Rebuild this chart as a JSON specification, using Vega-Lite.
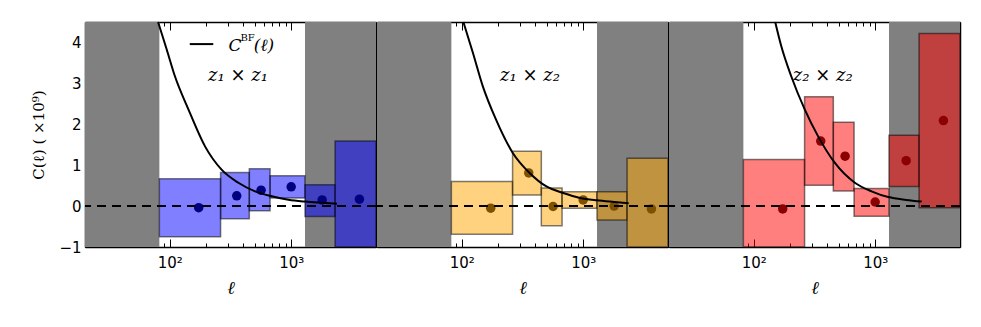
{
  "$schema": "https://vega.github.io/schema/vega-lite/v6.json",
  "padding": {"left": 31, "top": 18, "right": 5, "bottom": 5},
  "background": "white",
  "spacing": -1.5,
  "config": {
    "view": {"stroke": null}
  },
  "datasets": {
    "gray": [
      {"lo": 20, "hi": 82, "ylo": -1, "yhi": 4.5},
      {"lo": 1300, "hi": 5000, "ylo": -1, "yhi": 4.5}
    ],
    "boxes": [
      {"panel": 1, "lo": 82, "hi": 262, "ylo": -0.75, "yhi": 0.67},
      {"panel": 1, "lo": 262, "hi": 452, "ylo": -0.31, "yhi": 0.82},
      {"panel": 1, "lo": 452, "hi": 670, "ylo": -0.115, "yhi": 0.91},
      {"panel": 1, "lo": 670, "hi": 1300, "ylo": 0.2, "yhi": 0.74},
      {"panel": 1, "lo": 1300, "hi": 2300, "ylo": -0.255, "yhi": 0.52},
      {"panel": 1, "lo": 2300, "hi": 5000, "ylo": -1, "yhi": 1.59},
      {"panel": 2, "lo": 82, "hi": 262, "ylo": -0.69, "yhi": 0.6},
      {"panel": 2, "lo": 262, "hi": 452, "ylo": 0.27, "yhi": 1.34},
      {"panel": 2, "lo": 452, "hi": 670, "ylo": -0.48, "yhi": 0.44},
      {"panel": 2, "lo": 670, "hi": 1300, "ylo": -0.05, "yhi": 0.35},
      {"panel": 2, "lo": 1300, "hi": 2300, "ylo": -0.34, "yhi": 0.35},
      {"panel": 2, "lo": 2300, "hi": 5000, "ylo": -1, "yhi": 1.17},
      {"panel": 3, "lo": 82, "hi": 262, "ylo": -1, "yhi": 1.14},
      {"panel": 3, "lo": 262, "hi": 452, "ylo": 0.51, "yhi": 2.67},
      {"panel": 3, "lo": 452, "hi": 670, "ylo": 0.37, "yhi": 2.05},
      {"panel": 3, "lo": 670, "hi": 1300, "ylo": -0.25, "yhi": 0.43},
      {"panel": 3, "lo": 1300, "hi": 2300, "ylo": 0.48, "yhi": 1.73},
      {"panel": 3, "lo": 2300, "hi": 5000, "ylo": -0.04, "yhi": 4.22}
    ],
    "pts": [
      {"panel": 1, "ell": 173, "c": -0.04},
      {"panel": 1, "ell": 356, "c": 0.25},
      {"panel": 1, "ell": 565, "c": 0.39},
      {"panel": 1, "ell": 1000, "c": 0.47},
      {"panel": 1, "ell": 1800, "c": 0.15},
      {"panel": 1, "ell": 3650, "c": 0.17},
      {"panel": 2, "ell": 173, "c": -0.05},
      {"panel": 2, "ell": 356, "c": 0.81},
      {"panel": 2, "ell": 565, "c": -0.01},
      {"panel": 2, "ell": 1000, "c": 0.15},
      {"panel": 2, "ell": 1800, "c": 0.0},
      {"panel": 2, "ell": 3650, "c": -0.07},
      {"panel": 3, "ell": 173, "c": -0.07},
      {"panel": 3, "ell": 356, "c": 1.59},
      {"panel": 3, "ell": 565, "c": 1.22},
      {"panel": 3, "ell": 1000, "c": 0.1},
      {"panel": 3, "ell": 1800, "c": 1.11},
      {"panel": 3, "ell": 3650, "c": 2.09}
    ],
    "curve": [
      {"panel": 1, "ell": 80, "c": 4.5},
      {"panel": 1, "ell": 94, "c": 3.84},
      {"panel": 1, "ell": 110, "c": 3.18},
      {"panel": 1, "ell": 142, "c": 2.37},
      {"panel": 1, "ell": 195, "c": 1.46},
      {"panel": 1, "ell": 267, "c": 0.89},
      {"panel": 1, "ell": 367, "c": 0.57},
      {"panel": 1, "ell": 504, "c": 0.36},
      {"panel": 1, "ell": 692, "c": 0.24},
      {"panel": 1, "ell": 950, "c": 0.155},
      {"panel": 1, "ell": 1306, "c": 0.11},
      {"panel": 1, "ell": 1800, "c": 0.08},
      {"panel": 1, "ell": 2390, "c": 0.056},
      {"panel": 2, "ell": 103, "c": 4.5},
      {"panel": 2, "ell": 123, "c": 3.76},
      {"panel": 2, "ell": 148.5, "c": 2.94},
      {"panel": 2, "ell": 191, "c": 2.12},
      {"panel": 2, "ell": 263, "c": 1.3},
      {"panel": 2, "ell": 362, "c": 0.81},
      {"panel": 2, "ell": 498, "c": 0.48},
      {"panel": 2, "ell": 685, "c": 0.32},
      {"panel": 2, "ell": 940, "c": 0.2},
      {"panel": 2, "ell": 1294, "c": 0.14},
      {"panel": 2, "ell": 1800, "c": 0.1},
      {"panel": 2, "ell": 2370, "c": 0.07},
      {"panel": 3, "ell": 150, "c": 4.5},
      {"panel": 3, "ell": 168, "c": 3.92},
      {"panel": 3, "ell": 203, "c": 3.18},
      {"panel": 3, "ell": 262, "c": 2.37},
      {"panel": 3, "ell": 338, "c": 1.71},
      {"panel": 3, "ell": 464, "c": 1.06},
      {"panel": 3, "ell": 680, "c": 0.57},
      {"panel": 3, "ell": 933, "c": 0.36},
      {"panel": 3, "ell": 1280, "c": 0.22},
      {"panel": 3, "ell": 1800, "c": 0.15},
      {"panel": 3, "ell": 2415, "c": 0.11}
    ],
    "zero": [{"c": 0}],
    "labels": [
      {"panel": 1, "ell": 365, "c": 3.18, "t": "z₁ × z₁"},
      {"panel": 2, "ell": 365, "c": 3.18, "t": "z₁ × z₂"},
      {"panel": 3, "ell": 370, "c": 3.18, "t": "z₂ × z₂"}
    ],
    "legline": [{"lo": 146, "hi": 228, "c": 3.96}],
    "legtext": [
      {"part": "main", "ell": 305, "c": 3.92, "t": "C"},
      {"part": "sup", "ell": 382, "c": 4.1, "t": "BF"},
      {"part": "main", "ell": 492, "c": 3.92, "t": "(ℓ)"}
    ]
  },
  "hconcat": [
    {
      "width": 291,
      "height": 225,
      "layer": [
        {
          "data": {"name": "gray"},
          "mark": {"type": "rect", "color": "#808080"},
          "encoding": {
            "x": {"field": "lo", "type": "quantitative", "scale": {"type": "log", "domain": [20, 5000], "nice": false},
              "axis": {"orient": "bottom", "values": [20,30,40,50,60,70,80,90,100,200,300,400,500,600,700,800,900,1000,2000,3000,4000,5000],
                "labelExpr": "datum.value == 100 ? '10²' : datum.value == 1000 ? '10³' : ''",
                "domain": true, "domainColor": "black", "domainWidth": 1.5, "ticks": true, "tickColor": "black", "tickWidth": 1,
                "tickSize": {"condition": {"test": "datum.value == 100 || datum.value == 1000", "value": -8}, "value": -4},
                "grid": false, "labelFont": "DejaVu Sans", "labelFontSize": 15, "labelColor": "black", "labelFlush": false, "labelOverlap": false,
                "labelPadding": 16, "title": "ℓ", "titleFont": "DejaVu Serif", "titleFontStyle": "italic", "titleFontWeight": "normal", "titleColor": "black", "titleFontSize": 18, "titlePadding": 5}},
            "x2": {"field": "hi"},
            "y": {"field": "ylo", "type": "quantitative", "scale": {"domain": [-1, 4.5], "nice": false, "zero": false},
              "axis": {"orient": "left", "values": [-1,0,1,2,3,4], "domain": true, "domainColor": "black", "domainWidth": 1.5, "ticks": true, "tickColor": "black", "tickWidth": 1, "tickSize": -8,
                "grid": false, "labelFont": "DejaVu Sans", "labelFontSize": 15, "labelColor": "black", "labelPadding": 12,
                "title": "C(ℓ) ( ×10⁹)", "titleFont": "DejaVu Serif", "titleFontWeight": "normal", "titleColor": "black", "titleFontSize": 15, "titlePadding": 12}},
            "y2": {"field": "yhi"}
          }
        },
        {
          "data": {"name": "boxes"},
          "transform": [{"filter": "datum.panel == 1"}],
          "mark": {"type": "rect", "fill": "#0000ff", "fillOpacity": 0.5, "stroke": "#000000", "strokeOpacity": 0.5, "strokeWidth": 1.5},
          "encoding": {
            "x": {"field": "lo", "type": "quantitative",
              "axis": {"orient": "top", "values": [20,30,40,50,60,70,80,90,100,200,300,400,500,600,700,800,900,1000,2000,3000,4000,5000],
                "labels": false, "title": null, "grid": false, "domain": true, "domainColor": "black", "domainWidth": 1.5, "ticks": true, "tickColor": "black", "tickWidth": 1,
                "tickSize": {"condition": {"test": "datum.value == 100 || datum.value == 1000", "value": -8}, "value": -4}}},
            "x2": {"field": "hi"},
            "y": {"field": "ylo", "type": "quantitative",
              "axis": {"orient": "right", "values": [-1,0,1,2,3,4], "labels": false, "title": null, "grid": false, "domain": true, "domainColor": "black", "domainWidth": 1.5, "ticks": true, "tickColor": "black", "tickWidth": 1, "tickSize": -8}},
            "y2": {"field": "yhi"}
          }
        },
        {
          "data": {"name": "pts"},
          "transform": [{"filter": "datum.panel == 1"}],
          "mark": {"type": "circle", "size": 90, "opacity": 1, "color": "#000080"},
          "encoding": {
            "x": {"field": "ell", "type": "quantitative", "axis": null},
            "y": {"field": "c", "type": "quantitative", "axis": null}
          }
        },
        {
          "data": {"name": "curve"},
          "transform": [{"filter": "datum.panel == 1"}],
          "mark": {"type": "line", "color": "black", "strokeWidth": 2, "interpolate": "monotone"},
          "encoding": {
            "x": {"field": "ell", "type": "quantitative", "axis": null},
            "y": {"field": "c", "type": "quantitative", "axis": null}
          }
        },
        {
          "data": {"name": "zero"},
          "mark": {"type": "rule", "color": "black", "strokeWidth": 2, "strokeDash": [9, 6]},
          "encoding": {"y": {"field": "c", "type": "quantitative", "axis": null}}
        },
        {
          "data": {"name": "labels"},
          "transform": [{"filter": "datum.panel == 1"}],
          "mark": {"type": "text", "font": "DejaVu Serif", "fontStyle": "italic", "fontSize": 18, "align": "center", "baseline": "middle", "color": "black"},
          "encoding": {
            "x": {"field": "ell", "type": "quantitative", "axis": null},
            "y": {"field": "c", "type": "quantitative", "axis": null},
            "text": {"field": "t"}
          }
        },
        {
          "data": {"name": "legline"},
          "mark": {"type": "rule", "color": "black", "strokeWidth": 2},
          "encoding": {
            "x": {"field": "lo", "type": "quantitative", "axis": null},
            "x2": {"field": "hi"},
            "y": {"field": "c", "type": "quantitative", "axis": null}
          }
        },
        {
          "data": {"name": "legtext"},
          "transform": [{"filter": "datum.part == 'main'"}],
          "mark": {"type": "text", "font": "DejaVu Serif", "fontStyle": "italic", "fontSize": 17, "align": "left", "baseline": "middle", "color": "black"},
          "encoding": {
            "x": {"field": "ell", "type": "quantitative", "axis": null},
            "y": {"field": "c", "type": "quantitative", "axis": null},
            "text": {"field": "t"}
          }
        },
        {
          "data": {"name": "legtext"},
          "transform": [{"filter": "datum.part == 'sup'"}],
          "mark": {"type": "text", "font": "DejaVu Serif", "fontSize": 10, "align": "left", "baseline": "middle", "color": "black"},
          "encoding": {
            "x": {"field": "ell", "type": "quantitative", "axis": null},
            "y": {"field": "c", "type": "quantitative", "axis": null},
            "text": {"field": "t"}
          }
        }
      ]
    },
    {
      "width": 291,
      "height": 225,
      "layer": [
        {
          "data": {"name": "gray"},
          "mark": {"type": "rect", "color": "#808080"},
          "encoding": {
            "x": {"field": "lo", "type": "quantitative", "scale": {"type": "log", "domain": [20, 5000], "nice": false},
              "axis": {"orient": "bottom", "values": [20,30,40,50,60,70,80,90,100,200,300,400,500,600,700,800,900,1000,2000,3000,4000,5000],
                "labelExpr": "datum.value == 100 ? '10²' : datum.value == 1000 ? '10³' : ''",
                "domain": true, "domainColor": "black", "domainWidth": 1.5, "ticks": true, "tickColor": "black", "tickWidth": 1,
                "tickSize": {"condition": {"test": "datum.value == 100 || datum.value == 1000", "value": -8}, "value": -4},
                "grid": false, "labelFont": "DejaVu Sans", "labelFontSize": 15, "labelColor": "black", "labelFlush": false, "labelOverlap": false,
                "labelPadding": 16, "title": "ℓ", "titleFont": "DejaVu Serif", "titleFontStyle": "italic", "titleFontWeight": "normal", "titleColor": "black", "titleFontSize": 18, "titlePadding": 5}},
            "x2": {"field": "hi"},
            "y": {"field": "ylo", "type": "quantitative", "scale": {"domain": [-1, 4.5], "nice": false, "zero": false},
              "axis": {"orient": "left", "values": [-1,0,1,2,3,4], "domain": true, "domainColor": "black", "domainWidth": 1.5, "ticks": true, "tickColor": "black", "tickWidth": 1, "tickSize": -8, "grid": false, "labels": false, "title": null}},
            "y2": {"field": "yhi"}
          }
        },
        {
          "data": {"name": "boxes"},
          "transform": [{"filter": "datum.panel == 2"}],
          "mark": {"type": "rect", "fill": "#ffa500", "fillOpacity": 0.5, "stroke": "#000000", "strokeOpacity": 0.5, "strokeWidth": 1.5},
          "encoding": {
            "x": {"field": "lo", "type": "quantitative",
              "axis": {"orient": "top", "values": [20,30,40,50,60,70,80,90,100,200,300,400,500,600,700,800,900,1000,2000,3000,4000,5000],
                "labels": false, "title": null, "grid": false, "domain": true, "domainColor": "black", "domainWidth": 1.5, "ticks": true, "tickColor": "black", "tickWidth": 1,
                "tickSize": {"condition": {"test": "datum.value == 100 || datum.value == 1000", "value": -8}, "value": -4}}},
            "x2": {"field": "hi"},
            "y": {"field": "ylo", "type": "quantitative",
              "axis": {"orient": "right", "values": [-1,0,1,2,3,4], "labels": false, "title": null, "grid": false, "domain": true, "domainColor": "black", "domainWidth": 1.5, "ticks": true, "tickColor": "black", "tickWidth": 1, "tickSize": -8}},
            "y2": {"field": "yhi"}
          }
        },
        {
          "data": {"name": "pts"},
          "transform": [{"filter": "datum.panel == 2"}],
          "mark": {"type": "circle", "size": 90, "opacity": 1, "color": "#7d5100"},
          "encoding": {
            "x": {"field": "ell", "type": "quantitative", "axis": null},
            "y": {"field": "c", "type": "quantitative", "axis": null}
          }
        },
        {
          "data": {"name": "curve"},
          "transform": [{"filter": "datum.panel == 2"}],
          "mark": {"type": "line", "color": "black", "strokeWidth": 2, "interpolate": "monotone"},
          "encoding": {
            "x": {"field": "ell", "type": "quantitative", "axis": null},
            "y": {"field": "c", "type": "quantitative", "axis": null}
          }
        },
        {
          "data": {"name": "zero"},
          "mark": {"type": "rule", "color": "black", "strokeWidth": 2, "strokeDash": [9, 6]},
          "encoding": {"y": {"field": "c", "type": "quantitative", "axis": null}}
        },
        {
          "data": {"name": "labels"},
          "transform": [{"filter": "datum.panel == 2"}],
          "mark": {"type": "text", "font": "DejaVu Serif", "fontStyle": "italic", "fontSize": 18, "align": "center", "baseline": "middle", "color": "black"},
          "encoding": {
            "x": {"field": "ell", "type": "quantitative", "axis": null},
            "y": {"field": "c", "type": "quantitative", "axis": null},
            "text": {"field": "t"}
          }
        }
      ]
    },
    {
      "width": 291,
      "height": 225,
      "layer": [
        {
          "data": {"name": "gray"},
          "mark": {"type": "rect", "color": "#808080"},
          "encoding": {
            "x": {"field": "lo", "type": "quantitative", "scale": {"type": "log", "domain": [20, 5000], "nice": false},
              "axis": {"orient": "bottom", "values": [20,30,40,50,60,70,80,90,100,200,300,400,500,600,700,800,900,1000,2000,3000,4000,5000],
                "labelExpr": "datum.value == 100 ? '10²' : datum.value == 1000 ? '10³' : ''",
                "domain": true, "domainColor": "black", "domainWidth": 1.5, "ticks": true, "tickColor": "black", "tickWidth": 1,
                "tickSize": {"condition": {"test": "datum.value == 100 || datum.value == 1000", "value": -8}, "value": -4},
                "grid": false, "labelFont": "DejaVu Sans", "labelFontSize": 15, "labelColor": "black", "labelFlush": false, "labelOverlap": false,
                "labelPadding": 16, "title": "ℓ", "titleFont": "DejaVu Serif", "titleFontStyle": "italic", "titleFontWeight": "normal", "titleColor": "black", "titleFontSize": 18, "titlePadding": 5}},
            "x2": {"field": "hi"},
            "y": {"field": "ylo", "type": "quantitative", "scale": {"domain": [-1, 4.5], "nice": false, "zero": false},
              "axis": {"orient": "left", "values": [-1,0,1,2,3,4], "domain": true, "domainColor": "black", "domainWidth": 1.5, "ticks": true, "tickColor": "black", "tickWidth": 1, "tickSize": -8, "grid": false, "labels": false, "title": null}},
            "y2": {"field": "yhi"}
          }
        },
        {
          "data": {"name": "boxes"},
          "transform": [{"filter": "datum.panel == 3"}],
          "mark": {"type": "rect", "fill": "#ff0000", "fillOpacity": 0.5, "stroke": "#000000", "strokeOpacity": 0.5, "strokeWidth": 1.5},
          "encoding": {
            "x": {"field": "lo", "type": "quantitative",
              "axis": {"orient": "top", "values": [20,30,40,50,60,70,80,90,100,200,300,400,500,600,700,800,900,1000,2000,3000,4000,5000],
                "labels": false, "title": null, "grid": false, "domain": true, "domainColor": "black", "domainWidth": 1.5, "ticks": true, "tickColor": "black", "tickWidth": 1,
                "tickSize": {"condition": {"test": "datum.value == 100 || datum.value == 1000", "value": -8}, "value": -4}}},
            "x2": {"field": "hi"},
            "y": {"field": "ylo", "type": "quantitative",
              "axis": {"orient": "right", "values": [-1,0,1,2,3,4], "labels": false, "title": null, "grid": false, "domain": true, "domainColor": "black", "domainWidth": 1.5, "ticks": true, "tickColor": "black", "tickWidth": 1, "tickSize": -8}},
            "y2": {"field": "yhi"}
          }
        },
        {
          "data": {"name": "pts"},
          "transform": [{"filter": "datum.panel == 3"}],
          "mark": {"type": "circle", "size": 90, "opacity": 1, "color": "#8b0000"},
          "encoding": {
            "x": {"field": "ell", "type": "quantitative", "axis": null},
            "y": {"field": "c", "type": "quantitative", "axis": null}
          }
        },
        {
          "data": {"name": "curve"},
          "transform": [{"filter": "datum.panel == 3"}],
          "mark": {"type": "line", "color": "black", "strokeWidth": 2, "interpolate": "monotone"},
          "encoding": {
            "x": {"field": "ell", "type": "quantitative", "axis": null},
            "y": {"field": "c", "type": "quantitative", "axis": null}
          }
        },
        {
          "data": {"name": "zero"},
          "mark": {"type": "rule", "color": "black", "strokeWidth": 2, "strokeDash": [9, 6]},
          "encoding": {"y": {"field": "c", "type": "quantitative", "axis": null}}
        },
        {
          "data": {"name": "labels"},
          "transform": [{"filter": "datum.panel == 3"}],
          "mark": {"type": "text", "font": "DejaVu Serif", "fontStyle": "italic", "fontSize": 18, "align": "center", "baseline": "middle", "color": "black"},
          "encoding": {
            "x": {"field": "ell", "type": "quantitative", "axis": null},
            "y": {"field": "c", "type": "quantitative", "axis": null},
            "text": {"field": "t"}
          }
        }
      ]
    }
  ]
}
